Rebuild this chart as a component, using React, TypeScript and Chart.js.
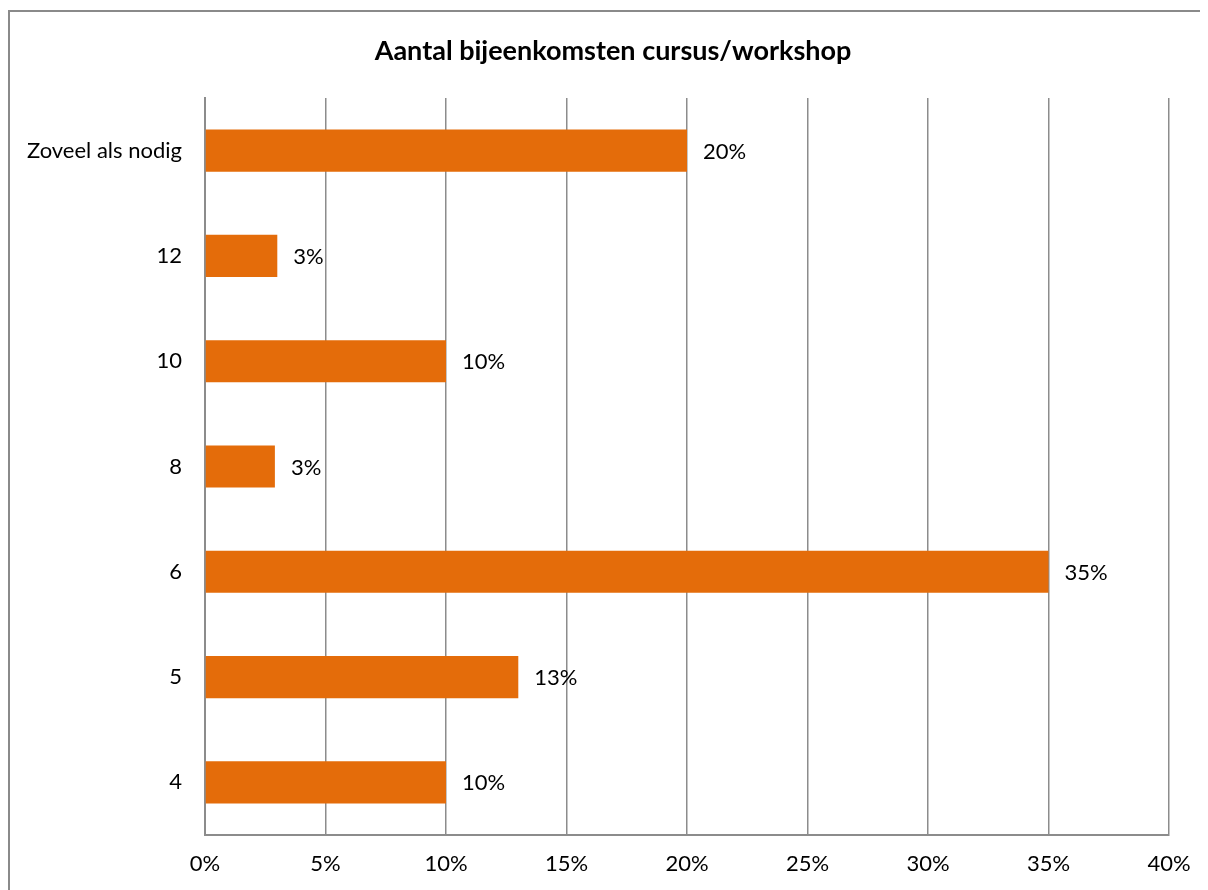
import React, { useEffect, useRef } from "react";
import { Chart, registerables } from "chart.js";

Chart.register(...registerables);

const TITLE = "Aantal bijeenkomsten cursus/workshop";
const categories = ["Zoveel als nodig", "12", "10", "8", "6", "5", "4"];
const values = [20, 3.0, 10, 2.9, 35, 13, 10];
const xTicks = [0, 5, 10, 15, 20, 25, 30, 35, 40];

const FONT = "Lato, 'Open Sans', sans-serif";
const GRID = "#8c8c8c";
const BAR = "#E46C0A";

const valueLabels = {
  id: "valueLabels",
  afterDatasetsDraw(chart: any) {
    const ctx = chart.ctx;
    const meta = chart.getDatasetMeta(0);
    ctx.save();
    ctx.font = `22px ${FONT}`;
    ctx.fillStyle = "#000";
    ctx.textAlign = "left";
    ctx.textBaseline = "middle";
    meta.data.forEach((el: any, i: number) => {
      ctx.fillText(Math.round(values[i]) + "%", el.x + 16, el.y + 1);
    });
    ctx.restore();
  },
};

const titlePlugin = {
  id: "titleText",
  afterDraw(chart: any) {
    const ctx = chart.ctx;
    ctx.save();
    ctx.font = `bold 27px ${FONT}`;
    ctx.fillStyle = "#000";
    ctx.textAlign = "center";
    ctx.textBaseline = "middle";
    ctx.fillText(TITLE, 603, 39);
    ctx.restore();
  },
};

export default function App() {
  const ref = useRef<HTMLCanvasElement>(null);
  useEffect(() => {
    document.body.style.overflow = "hidden";
    document.documentElement.style.overflow = "hidden";
    const chart = new Chart(ref.current!, {
      type: "bar",
      data: {
        labels: categories,
        datasets: [
          {
            data: values,
            backgroundColor: BAR,
            barPercentage: 0.4,
            categoryPercentage: 1,
          },
        ],
      },
      options: {
        indexAxis: "y",
        animation: false,
        responsive: false,
        layout: { padding: { left: 0, right: 39, top: 86, bottom: 0 } },
        plugins: {
          legend: { display: false },
          tooltip: { enabled: false },
          title: { display: false },
        },
        scales: {
          x: {
            min: 0,
            max: 40,
            afterBuildTicks(scale: any) {
              scale.ticks = xTicks.map((v) => ({ value: v }));
            },
            afterFit(scale: any) {
              scale.height = 55;
            },
            grid: { color: GRID, lineWidth: 1.5, drawTicks: false },
            border: { display: true, color: GRID, width: 2 },
            ticks: {
              padding: 16,
              color: "#000",
              font: { family: FONT, size: 22 },
              callback: (v: any) => v + "%",
            },
          },
          y: {
            afterFit(scale: any) {
              scale.width = 195;
            },
            grid: { display: false, drawTicks: false },
            border: { display: true, color: GRID, width: 2 },
            ticks: {
              padding: 23,
              color: "#000",
              font: { family: FONT, size: 22 },
            },
          },
        },
      },
      plugins: [valueLabels, titlePlugin],
    });
    return () => chart.destroy();
  }, []);
  return (
    <div
      style={{
        marginTop: 2,
        width: 1198,
        height: 878,
        borderTop: "2px solid #8a8a8a",
        borderLeft: "2px solid #8a8a8a",
        position: "relative",
        background: "#fff",
      }}
    >
      <canvas ref={ref} width={1198} height={878} style={{ display: "block", width: 1198, height: 878 }} />
    </div>
  );
}
